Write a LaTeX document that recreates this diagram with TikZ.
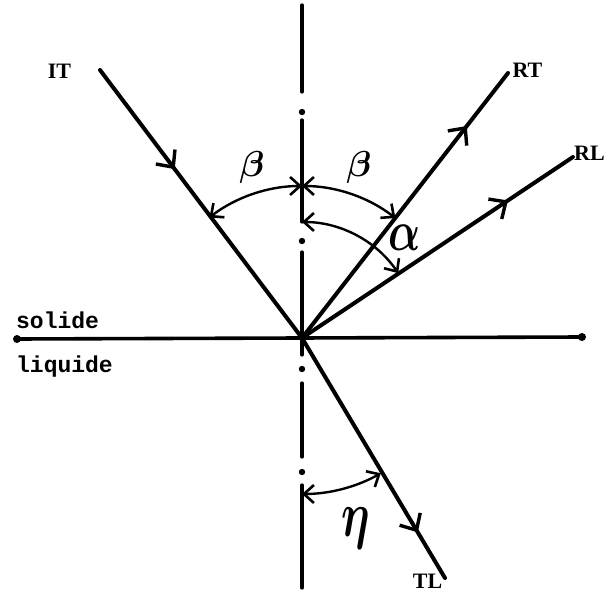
\documentclass[tikz,border=0pt]{standalone}
\usepackage{fontspec}
\usepackage{amsmath}
\usepackage{graphicx}
\usepackage{tikz}
\usetikzlibrary{arrows.meta, decorations.markings, calc}
\newfontfamily\rayfont{Liberation Serif}
\newfontfamily\typefont{Liberation Mono}
\tikzset{
  ray/.style={line width=4pt, line cap=round, postaction=decorate,
    decoration={markings, mark=at position #1 with {\arrow{Straight Barb[length=13pt, width=24pt, line width=3.4pt]}}}},
  anglearc/.style={line width=2.4pt, {Straight Barb[length=10pt, width=18pt, line width=2.6pt]}-{Straight Barb[length=10pt, width=18pt, line width=2.6pt]}},
  raylabel/.style={inner sep=0pt, font=\rayfont\bfseries\fontsize{22}{22}\selectfont},
  medlabel/.style={inner sep=0pt, font=\typefont\bfseries\fontsize{23}{23}\selectfont},
  greek/.style={inner sep=0pt, font=\boldmath\fontsize{24.88}{26}\selectfont}
}
\begin{document}
\begin{tikzpicture}[x=1pt, y=1pt]
            \useasboundingbox (-302,-259) rectangle (302,338);
            % points
            \coordinate (O) at (0,0);
            \coordinate (IT) at (-202,268);
            \coordinate (RT) at (206,265);
            \coordinate (RL) at (271,181);
            \coordinate (TL) at (143,-240);
            \coordinate (left) at (-285,-1);
            \coordinate (right) at (280,1);
            % normal (dash-dot)
            \foreach \a/\b in {333/246, 218/116, 86/-17, -45/-119, -147/-250}
                \draw[line width=3.2pt, line cap=round] (0,\a) -- (0,\b);
            \foreach \d in {226, 97, -31, -134}
                \fill (0,\d) circle (3.2pt);
            % interface
            \draw[line width=3.6pt, line cap=round] (left) -- (right);
            \fill (left) circle (4pt);
            \fill (right) circle (4pt);
            % rays
            \draw[ray=0.37] (IT) -- (O);
            \draw[ray=0.8] (O) -- (RT);
            \draw[ray=0.76] (O) -- (RL);
            \draw[ray=0.81] (O) -- (TL);
            % angles
            \draw[anglearc] ($(O)+(127.5:152)$) arc[start angle=127.5, end angle=90, radius=152];
            \draw[anglearc] ($(O)+(90:152)$) arc[start angle=90, end angle=52.1, radius=152];
            \draw[anglearc] ($(O)+(90:116)$) arc[start angle=90, end angle=34, radius=116];
            \draw[anglearc] ($(O)+(270:156)$) arc[start angle=270, end angle=299.5, radius=160];
            % labels
            \node[raylabel] (labIT) at (-242.5,266.5) {IT};
            \node[raylabel] (labRT) at (225.5,268) {RT};
            \node[raylabel, anchor=west] (labRL) at (272,185) {RL};
            \node[raylabel] (labTL) at (125.5,-243.5) {TL};
            \node[medlabel, anchor=base west] (solide) at (-286,10) {solide};
            \node[medlabel, anchor=base west] (liquide) at (-286,-34) {liquide};
            \node[greek] (betaL) at (-50,171) {\scalebox{1.45}{$\beta$}};
            \node[greek] (betaR) at (57,171) {\scalebox{1.45}{$\beta$}};
            \node[greek] (alpha) at (103,100) {\scalebox{1.7}[2.3]{$\alpha$}};
            \node[greek] (eta) at (54,-190) {\scalebox{1.8}[2.6]{$\eta$}};
        \end{tikzpicture}
\end{document}
